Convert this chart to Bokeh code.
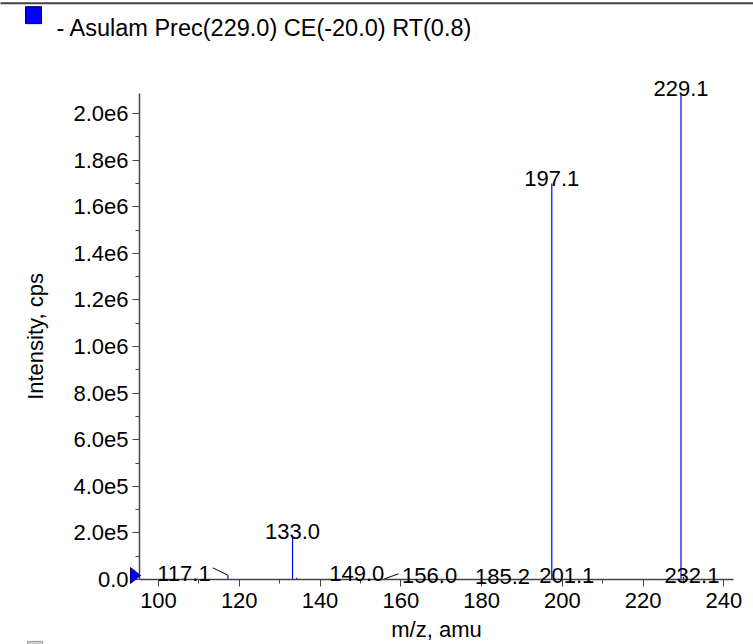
import math
from bokeh.plotting import figure
from bokeh.models import Range1d, FixedTicker, ColumnDataSource
from bokeh.core.properties import value
from bokeh.embed import file_html
from bokeh.resources import INLINE

# ---------------- data ----------------
title_text = "- Asulam Prec(229.0) CE(-20.0) RT(0.8)"
x_label = "m/z, amu"
y_label = "Intensity, cps"

peak_mz = [106.0, 117.2, 133.2, 134.2, 149.1, 153.5, 156.0, 185.2,
           197.4, 198.2, 199.1, 201.1, 229.4, 230.0, 231.0, 232.1]
peak_int = [4.0e3, 1.85e4, 1.85e5, 7.0e3, 1.1e4, 3.0e3, 3.0e3, 2.0e3,
            1.70e6, 5.0e3, 4.0e3, 3.0e3, 2.085e6, 1.2e4, 5.0e3, 3.0e3]

label_text = ["117.1", "133.0", "149.0", "156.0", "185.2", "197.1", "201.1", "229.1", "232.1"]
label_mz = [117.2, 133.2, 149.1, 156.0, 185.2, 197.4, 201.1, 229.4, 232.1]
label_int = [1.85e4, 1.85e5, 1.1e4, 3.0e3, 2.0e3, 1.70e6, 3.0e3, 2.085e6, 3.0e3]

x_ticks = [100, 120, 140, 160, 180, 200, 220, 240]
x_minor = [110, 130, 150, 170, 190, 210, 230]
y_ticks = [0, 2e5, 4e5, 6e5, 8e5, 1.0e6, 1.2e6, 1.4e6, 1.6e6, 1.8e6, 2.0e6]
y_minor = [1e5, 3e5, 5e5, 7e5, 9e5, 1.1e6, 1.3e6, 1.5e6, 1.7e6, 1.9e6]

x_start, x_end = 95.3, 242.4
y_start, y_end = 0.0, 2.086e6

# ---------------- layout constants (pixels) ----------------
W, H = 753, 644
L, R, T, B = 139, 733, 93, 580
FONT = "Liberation Sans"
FS = "22px"
BLUE = "#0000ff"

sx = (R - L) / (x_end - x_start)
sy = (B - T) / (y_end - y_start)


def px2x(px):
    return x_start + (px - L) / sx


def py2y(py):
    return y_start + (B - py) / sy


def fmt(v):
    if v == 0:
        return "0.0"
    e = int(math.floor(math.log10(v) + 1e-9))
    return f"{v / 10 ** e:.1f}e{e}"


p = figure(width=W, height=H, output_backend="svg", toolbar_location=None,
           x_range=Range1d(x_start, x_end), y_range=Range1d(y_start, y_end),
           min_border_left=L, min_border_right=W - R,
           min_border_top=T, min_border_bottom=H - B)
p.styles = {"position": "absolute", "left": "0px", "top": "0px"}
p.outline_line_color = None
p.xgrid.visible = False
p.ygrid.visible = False
p.background_fill_color = "white"
p.border_fill_color = "white"

for ax in (p.xaxis[0], p.yaxis[0]):
    ax.axis_line_color = "#444444"
    ax.axis_line_width = 1.5
    ax.major_tick_line_color = "#444444"
    ax.minor_tick_line_color = "#444444"
    ax.major_tick_in = 0
    ax.minor_tick_in = 0
    ax.major_tick_out = 7
    ax.minor_tick_out = 4
    ax.major_label_text_font = FONT
    ax.major_label_text_font_size = FS
    ax.major_label_text_color = "black"
    ax.axis_label_text_font = FONT
    ax.axis_label_text_font_size = FS
    ax.axis_label_text_font_style = "normal"
    ax.axis_label_text_color = "black"

p.xaxis.major_label_standoff = 6
p.yaxis.major_label_standoff = 4
p.xaxis.ticker = FixedTicker(ticks=x_ticks, minor_ticks=x_minor)
p.yaxis.ticker = FixedTicker(ticks=y_ticks, minor_ticks=y_minor)
p.yaxis.major_label_overrides = {t: fmt(t) for t in y_ticks}
p.xaxis.axis_label = x_label
p.yaxis.axis_label = y_label
p.xaxis.axis_label_standoff = 6
p.yaxis.axis_label_standoff = 22

# peaks
src = ColumnDataSource(dict(x=peak_mz, top=peak_int, bottom=[0] * len(peak_mz)))
p.segment(x0="x", y0="bottom", x1="x", y1="top", source=src, line_color=BLUE, line_width=1.2)

# peak labels (pixel offsets from the peak apex)
dx_px = {"117.1": -44, "156.0": 45}
gap_px = {"117.1": 2, "156.0": 3, "185.2": 3, "201.1": 3, "232.1": 3, "149.0": 3}
lx = [m + dx_px.get(t, 0) / sx for m, t in zip(label_mz, label_text)]
ly = [v + gap_px.get(t, 5) / sy for v, t in zip(label_int, label_text)]
p.text(x=lx, y=ly, text=label_text, text_font=value(FONT), text_font_size=FS,
       text_align="center", text_baseline="alphabetic", text_color="black", level="overlay")

# leader lines
lead = {"117.1": (-15, 7.3), "156.0": (14, 5)}
l0x, l0y, l1x, l1y = [], [], [], []
for m, v, t in zip(label_mz, label_int, label_text):
    if t in lead:
        ddx, ddy = lead[t]
        l0x.append(m); l0y.append(v)
        l1x.append(m + ddx / sx); l1y.append(v + ddy / sy)
p.segment(x0=l0x, y0=l0y, x1=l1x, y1=l1y, line_color="black", line_width=1, level="overlay")

# zero marker triangle on the y axis
p.patch(x=[px2x(130), px2x(140), px2x(130)], y=[py2y(568), py2y(576), py2y(584)],
        fill_color=BLUE, line_color="#000066", line_width=1, level="overlay")

# top rule
p.segment(x0=[px2x(0)], y0=[py2y(2.5)], x1=[px2x(W)], y1=[py2y(2.5)],
          line_color="#444444", line_width=2, level="overlay")

# legend swatch + title
p.quad(left=[px2x(25)], right=[px2x(41)], top=[py2y(6)], bottom=[py2y(23)],
       fill_color=BLUE, line_color="#000044", line_width=1, level="overlay")
p.text(x=[px2x(56)], y=[py2y(27)], text=[title_text], text_font=value(FONT),
       text_font_size="23.5px", text_align="left", text_baseline="alphabetic",
       text_color="black", level="overlay")

# partially visible swatch at the bottom edge
p.quad(left=[px2x(27)], right=[px2x(42)], top=[py2y(642)], bottom=[py2y(657)],
       fill_color="#cccccc", line_color="#999999", line_width=1, level="overlay")

open("out.html", "w").write(file_html(p, INLINE))
